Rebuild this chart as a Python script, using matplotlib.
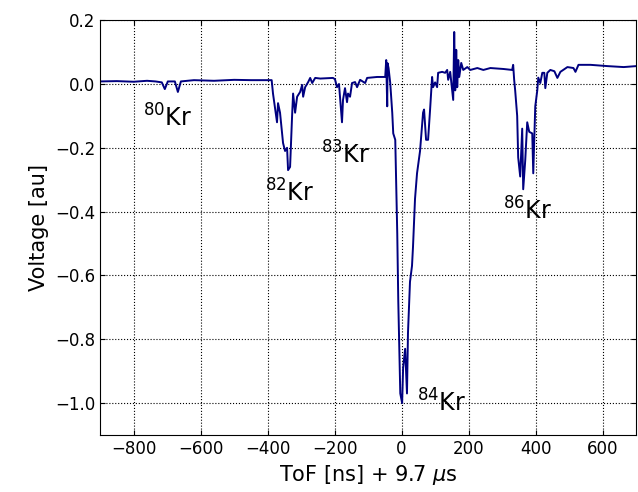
import matplotlib.pyplot as plt

# trace (ToF in ns, voltage in au)
tof = [-900, -850, -800, -760, -735, -716, -707, -698, -677, -668, -659, -620, -560, -500, -450,
       -400, -388, -384, -372, -369, -363, -354, -348, -342, -339, -333, -327, -324, -318, -312,
       -303, -297, -294, -288, -279, -273, -267, -258, -243, -205,
       -199, -193, -187, -178, -175, -169, -163, -160, -154, -148, -139, -133, -124, -109, -103,
       -73, -49,
       -46, -43, -42, -39, -34, -28, -25, -19, -13, -10, -4, 1.5, 4.5, 10.5, 16, 19, 25, 31, 34,
       40, 46, 55, 64, 67, 73, 79, 85, 91, 94, 100, 106, 109, 121, 130, 136, 139, 145, 154, 157,
       160, 163, 166, 169, 172, 178, 184, 196, 205, 226, 244, 265, 304, 330,
       333, 336, 339, 345, 348, 354, 360, 363, 369, 375, 381, 390, 393, 399, 405, 408, 414, 420,
       426, 429, 435, 444, 456, 465, 474, 495, 513, 519, 528, 564, 615, 663, 700]
voltage = [0.008, 0.009, 0.007, 0.010, 0.008, 0.005, -0.016, 0.008, 0.008, -0.025, 0.008, 0.012,
           0.010, 0.013, 0.012,
           0.012, 0.012, -0.03, -0.12, -0.06, -0.09, -0.185, -0.21, -0.20, -0.27, -0.26, -0.10,
           -0.03, -0.09, -0.04, -0.025, -0.003, -0.04, -0.01, 0.006, 0.019, 0.003, 0.019, 0.017,
           0.019,
           0.015, -0.01, 0.0, -0.12, -0.05, -0.013, -0.057, -0.03, -0.04, 0.003, 0.006, -0.01,
           0.013, 0.003, 0.019, 0.022, 0.022,
           0.075, -0.07, 0.065, 0.05, 0.003, -0.09, -0.155, -0.175, -0.47, -0.68, -0.97, -1.0,
           -0.89, -0.83, -0.97, -0.78, -0.62, -0.57, -0.51, -0.36, -0.28, -0.21, -0.09, -0.08,
           -0.175, -0.175, -0.08, 0.022, -0.01, 0.005, -0.01, 0.035, 0.038, 0.035, 0.044, 0.013,
           0.038, -0.05, 0.163, -0.02, 0.107, -0.01, 0.075, 0.022, 0.066, 0.044, 0.053, 0.044,
           0.05, 0.044, 0.05, 0.047, 0.044,
           0.06, 0.013, -0.02, -0.10, -0.23, -0.29, -0.14, -0.33, -0.24, -0.12, -0.15, -0.155,
           -0.28, -0.07, -0.02, 0.02, 0.003, 0.035, 0.035, -0.013, 0.035, 0.044, 0.04, 0.019,
           0.038, 0.053, 0.05, 0.038, 0.06, 0.06, 0.056, 0.053, 0.056]

isotopes = ["$^{80}$Kr", "$^{82}$Kr", "$^{83}$Kr", "$^{84}$Kr", "$^{86}$Kr"]
label_x = [-698, -333, -166, 118, 375]
label_y = [-0.107, -0.342, -0.223, -1.0, -0.398]

fig = plt.figure(figsize=(6.38, 4.92), dpi=100)
ax = fig.add_axes([0.157, 0.116, 0.84, 0.843])

ax.plot(tof, voltage, color="navy", lw=1.4)

for name, lx, ly in zip(isotopes, label_x, label_y):
    ax.text(lx, ly, name, fontsize=17, ha="center", va="center")

ax.set_xlim(-900, 700)
ax.set_ylim(-1.1, 0.2)
ax.set_xticks([-800, -600, -400, -200, 0, 200, 400, 600])
ax.set_yticks([-1.0, -0.8, -0.6, -0.4, -0.2, 0.0, 0.2])
ax.tick_params(direction="in", top=True, right=True, labelsize=12)
ax.grid(True, linestyle=":", color="black", linewidth=0.8)

ax.set_xlabel(r"ToF [ns] + 9.7 $\mu$s", fontsize=15)
ax.set_ylabel("Voltage [au]", fontsize=15)

fig.savefig("out.png", dpi=100)
